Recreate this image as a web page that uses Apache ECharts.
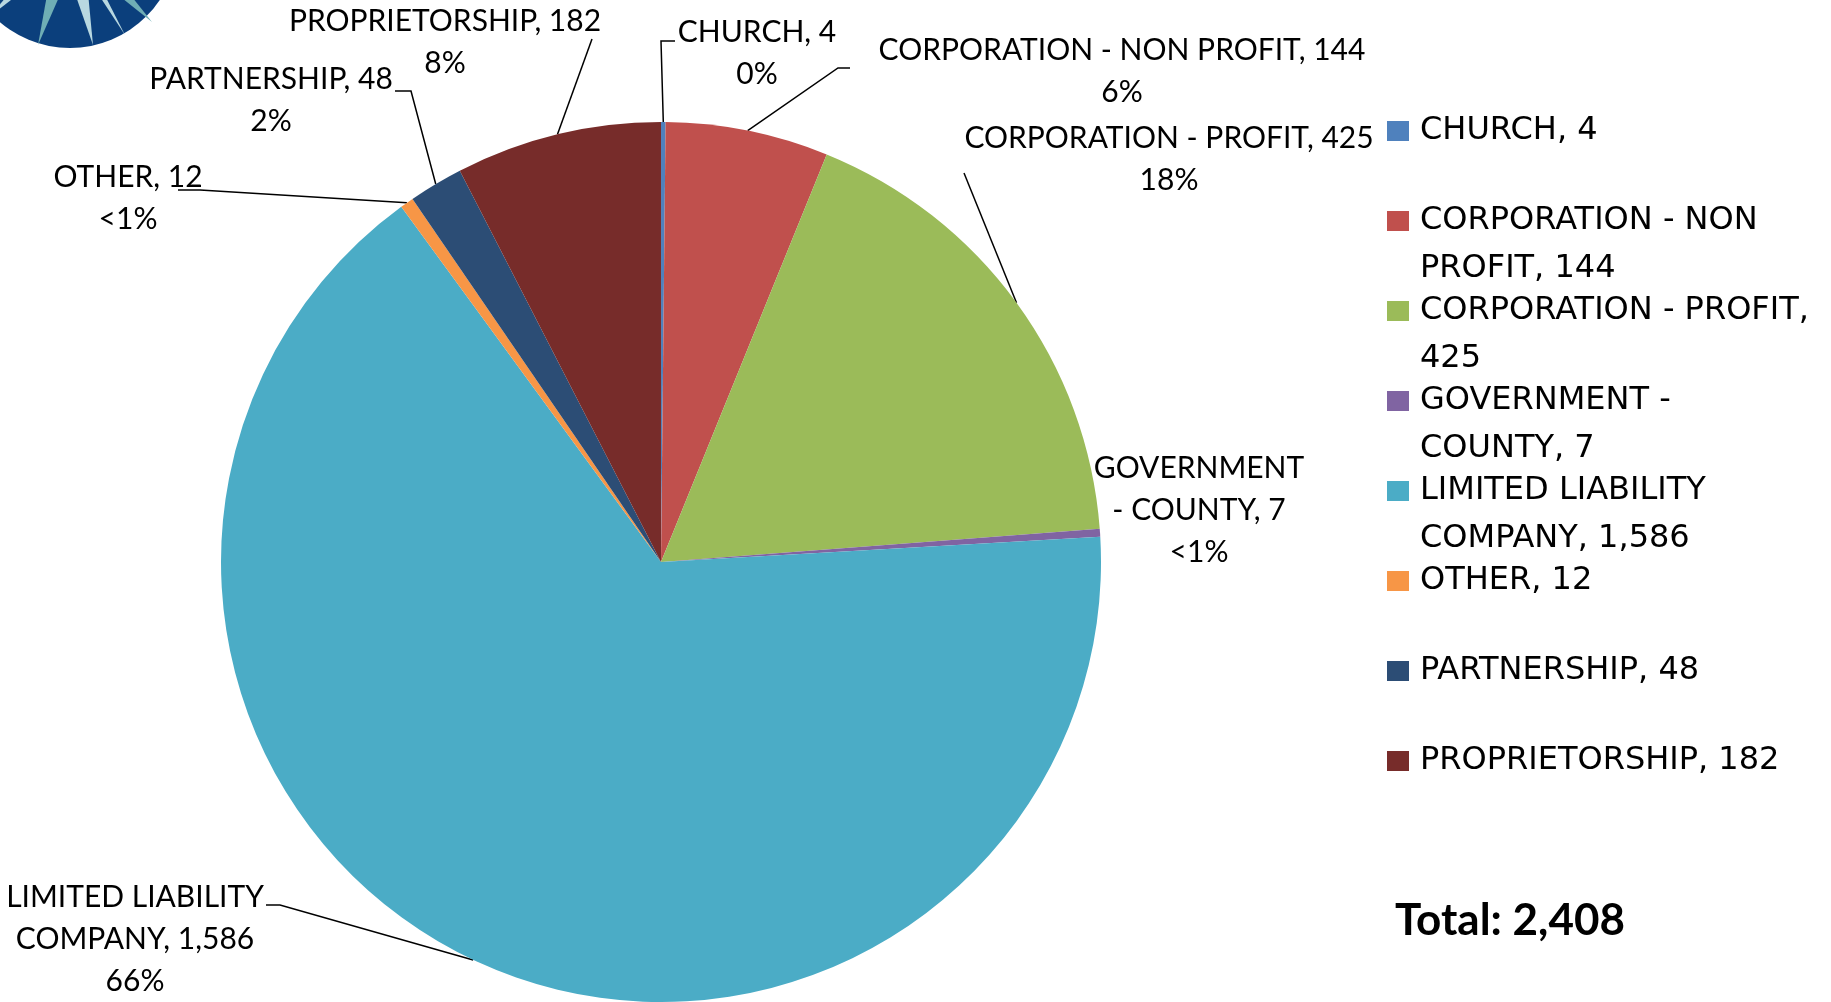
<!DOCTYPE html>
<html>
<head>
<meta charset="utf-8">
<script src="https://cdn.jsdelivr.net/npm/echarts@6/dist/echarts.min.js"></script>
<style>
html,body{margin:0;padding:0;background:#fff;}
#chart{width:1831px;height:1002px;}
</style>
</head>
<body>
<div id="chart"></div>
<script>
const categories = ['CHURCH', 'CORPORATION - NON PROFIT', 'CORPORATION - PROFIT', 'GOVERNMENT - COUNTY',
  'LIMITED LIABILITY COMPANY', 'OTHER', 'PARTNERSHIP', 'PROPRIETORSHIP'];
const values = [4, 144, 425, 7, 1586, 12, 48, 182];
const percentLabels = ['0%', '6%', '18%', '<1%', '66%', '<1%', '2%', '8%'];
// how each name wraps on the slice label and in the legend ({v} = value)
const labelTexts = ['CHURCH, {v}', 'CORPORATION - NON PROFIT, {v}', 'CORPORATION - PROFIT, {v}', 'GOVERNMENT\n- COUNTY, {v}',
  'LIMITED LIABILITY\nCOMPANY, {v}', 'OTHER, {v}', 'PARTNERSHIP, {v}', 'PROPRIETORSHIP, {v}'];
const legendTexts = ['CHURCH, {v}\n ', 'CORPORATION - NON\nPROFIT, {v}', 'CORPORATION - PROFIT,\n{v}', 'GOVERNMENT -\nCOUNTY, {v}',
  'LIMITED LIABILITY\nCOMPANY, {v}', 'OTHER, {v}\n ', 'PARTNERSHIP, {v}\n ', 'PROPRIETORSHIP, {v}\n '];
const colors = ['#4F81BD', '#C0504D', '#9BBB59', '#8064A2', '#4BACC6', '#F79646', '#2C4D75', '#772C2A'];

// label block placement (top centre) and leader line bends, pixels
const labelPos = [[757, 11], [1122, 29], [1169, 117], [1199, 447], [135, 876], [128, 156], [271, 58], [445, 0]];
const leaderBends = [
  [[661, 41], [675, 41]],
  [[838, 68], [850, 68]],
  [[964, 173], [964, 173]],
  null,
  [[280, 905], [266, 905]],
  [[200, 190], [178, 190]],
  [[411, 91], [395, 91]],
  [[592, 39], [592, 39]]
];

const fmt = (tpl, i) => tpl.replace('{v}', echarts.format.addCommas(values[i]));
const total = values.reduce((a, b) => a + b, 0);

const chart = echarts.init(document.getElementById('chart'));

// logo rays (decoration in the top-left corner)
const logoC = [70, -60];
function ray(tip, half, color) {
  const dx = tip[0] - logoC[0], dy = tip[1] - logoC[1];
  const len = Math.sqrt(dx * dx + dy * dy);
  const px = -dy / len * half, py = dx / len * half;
  return { type: 'polygon', shape: { points: [[logoC[0] + px, logoC[1] + py], tip, [logoC[0] - px, logoC[1] - py]] },
    style: { fill: color } };
}

chart.setOption({
  animation: false,
  backgroundColor: '#fff',
  legend: {
    orient: 'vertical',
    left: 1387,
    top: 107,
    padding: 0,
    itemGap: -6,
    itemWidth: 28,
    itemHeight: 68,
    icon: 'path://M0,0H22V20H0Z M0,68H28',
    selectedMode: false,
    itemStyle: { borderWidth: 0 },
    formatter: name => fmt(legendTexts[categories.indexOf(name)], categories.indexOf(name)),
    textStyle: { fontFamily: 'DejaVu Sans', fontSize: 32, lineHeight: 48, color: '#000' },
    data: categories
  },
  graphic: [
    { type: 'circle', shape: { cx: logoC[0], cy: logoC[1], r: 108 }, style: { fill: '#0B3F7C' } },
    ray([-12, 18], 11, '#B8D8E1'),
    ray([38, 45], 13, '#6FAEB5'),
    ray([93, 45], 13, '#B8D8E1'),
    ray([152, 22], 13, '#6FAEB5'),
    ray([125, 35], 6, '#B8D8E1'),
    {
      type: 'text', left: 1395, top: 899,
      style: { text: 'Total: ' + echarts.format.addCommas(total), font: 'bold 44px Lato', fill: '#000' }
    }
  ],
  series: [{
    type: 'pie',
    center: [661, 562],
    radius: 440,
    startAngle: 90,
    clockwise: true,
    avoidLabelOverlap: false,
    itemStyle: { borderWidth: 0 },
    emphasis: { disabled: true },
    label: {
      show: true,
      formatter: p => fmt(labelTexts[p.dataIndex], p.dataIndex) + '\n' + percentLabels[p.dataIndex],
      fontFamily: 'Lato, sans-serif',
      fontSize: 30,
      lineHeight: 42,
      color: '#000'
    },
    labelLine: { show: true, length: 10, length2: 10, smooth: false, lineStyle: { color: '#000', width: 1.5 } },
    labelLayout: function (params) {
      const i = params.dataIndex;
      const out = { x: labelPos[i][0], y: labelPos[i][1], align: 'center', verticalAlign: 'top' };
      if (leaderBends[i] && params.labelLinePoints) {
        out.labelLinePoints = [params.labelLinePoints[0]].concat(leaderBends[i]);
      }
      return out;
    },
    data: categories.map((name, i) => ({
      name: name,
      value: values[i],
      itemStyle: { color: colors[i] },
      labelLine: { show: leaderBends[i] != null }
    }))
  }]
});
</script>
</body>
</html>
